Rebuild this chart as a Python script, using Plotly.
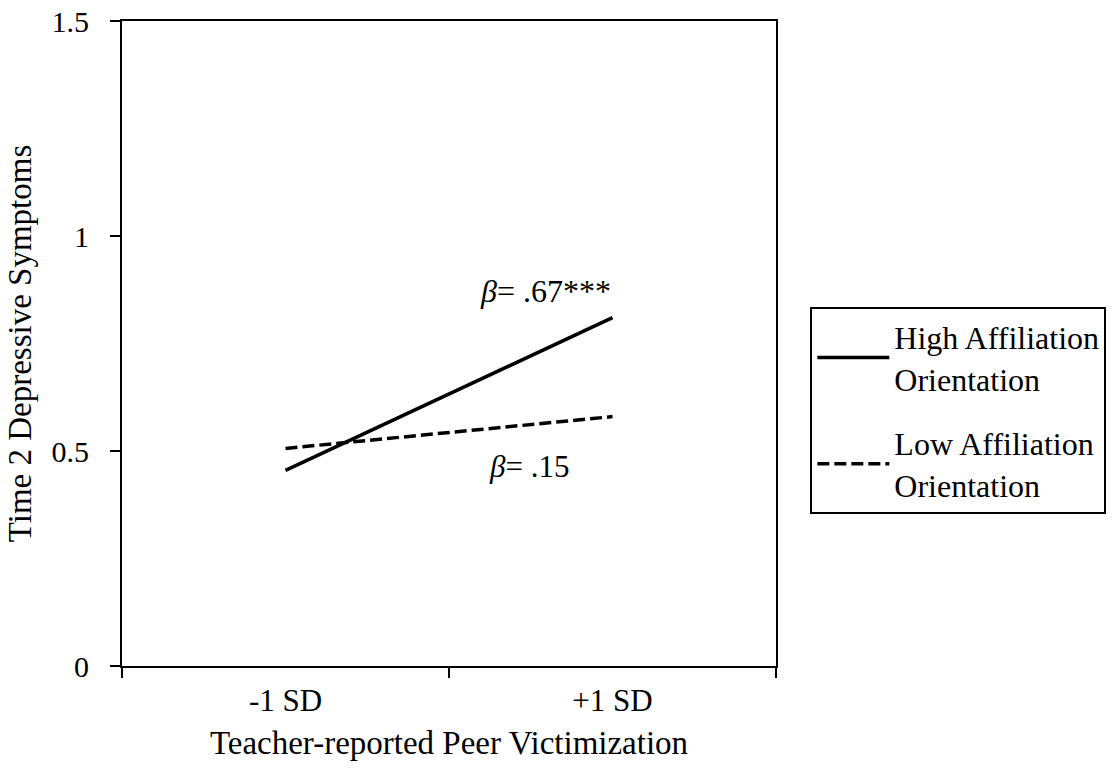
import plotly.graph_objects as go

categories = ["-1 SD", "+1 SD"]
high_affiliation = [0.455, 0.81]
low_affiliation = [0.506, 0.58]
series_names = ["High Affiliation<br>Orientation", "Low Affiliation<br>Orientation"]
y_ticks = [0, 0.5, 1, 1.5]
y_ticklabels = ["0", "0.5", "1", "1.5"]

FONT = "Liberation Serif"

fig = go.Figure()
fig.add_trace(go.Scatter(x=categories, y=high_affiliation, mode="lines", name=series_names[0],
                         legendgroup="high", line=dict(color="black", width=3.5)))
fig.add_trace(go.Scatter(x=categories, y=low_affiliation, mode="lines", name=series_names[1],
                         legendgroup="low", line=dict(color="black", width=3.5, dash="12px,5px")))

fig.add_annotation(x=1, y=0.873, xref="x", yref="y", text="<i>β</i>= .67***",
                   showarrow=False, xanchor="right", xshift=0, font=dict(family=FONT, size=32, color="black"))
fig.add_annotation(x=1, y=0.464, xref="x", yref="y", text="<i>β</i>= .15",
                   showarrow=False, xanchor="right", xshift=-42, font=dict(family=FONT, size=31, color="black"))

fig.update_layout(
    width=1113, height=772,
    margin=dict(l=122, r=337, t=21, b=106, autoexpand=False),
    paper_bgcolor="white", plot_bgcolor="white",
    font=dict(family=FONT, size=28, color="black"),
    showlegend=True,
    legend=dict(x=1.0525, y=0.556, xanchor="left", yanchor="top",
                bordercolor="black", borderwidth=2, bgcolor="white",
                font=dict(family=FONT, size=32, color="black"),
                tracegroupgap=20, itemwidth=72),
    xaxis=dict(type="category", range=[-0.5, 1.5], showline=True, linecolor="black", linewidth=2,
               mirror=True, ticks="outside", tickson="boundaries", ticklen=10, tickwidth=2,
               tickcolor="black", showgrid=False, zeroline=False, ticklabelstandoff=6,
               automargin=False,
               tickfont=dict(family=FONT, size=31, color="black"),
               title=dict(text="Teacher-reported Peer Victimization", standoff=14,
                          font=dict(family=FONT, size=33, color="black"))),
    yaxis=dict(range=[0, 1.5], tickvals=y_ticks, ticktext=y_ticklabels, showline=True,
               linecolor="black", linewidth=2, mirror=True, ticks="outside", ticklen=10,
               tickwidth=2, tickcolor="black", showgrid=False, zeroline=False,
               ticklabelstandoff=15, automargin=False,
               tickfont=dict(family=FONT, size=30, color="black"),
               title=dict(text="Time 2 Depressive Symptoms", standoff=10,
                          font=dict(family=FONT, size=33, color="black"))),
)

fig.write_html("out.html")
